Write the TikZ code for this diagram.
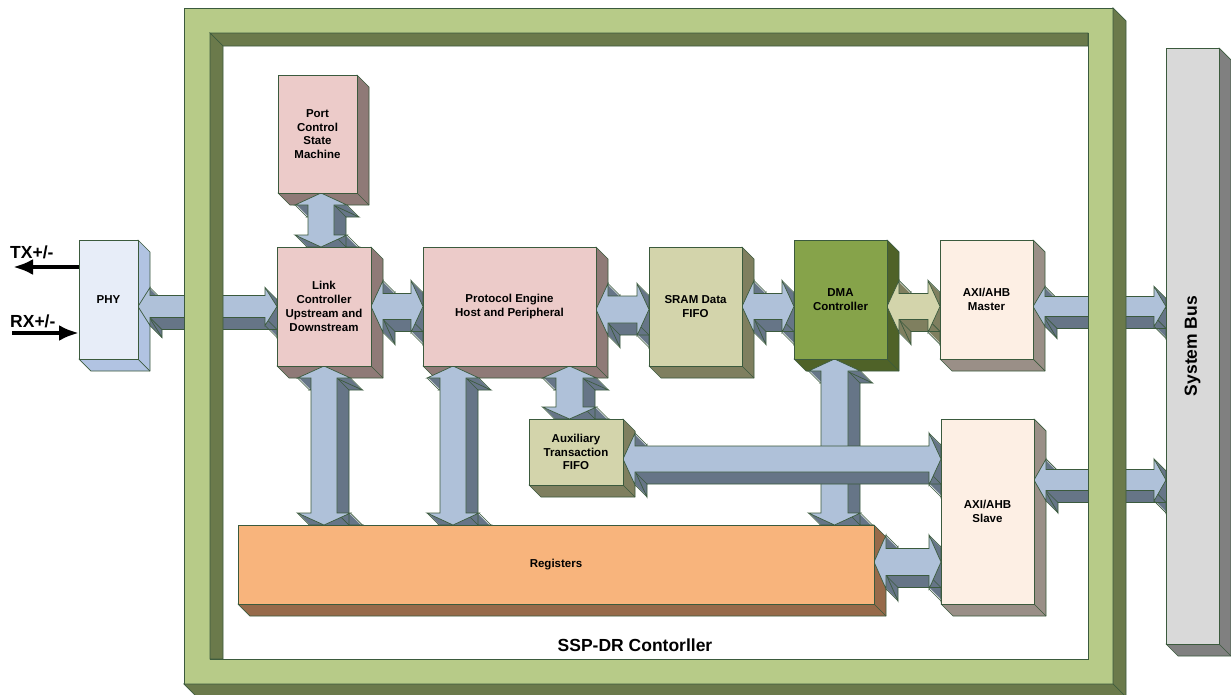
\documentclass[tikz,border=0pt]{standalone}
\usepackage{fontspec}
\setmainfont{Liberation Sans}
\usetikzlibrary{calc, positioning, arrows.meta}

\definecolor{lineGreen}{HTML}{3B5A3D}
\definecolor{frameLight}{HTML}{B7CB88}
\definecolor{frameDark}{HTML}{6B7A4B}
\definecolor{pinkFace}{HTML}{ECCBC9}
\definecolor{pinkSide}{HTML}{8F7A77}
\definecolor{khakiFace}{HTML}{D3D4AB}
\definecolor{khakiSide}{HTML}{7F7F5F}
\definecolor{dmaFace}{HTML}{86A34A}
\definecolor{dmaSide}{HTML}{4F6228}
\definecolor{axiFace}{HTML}{FDEFE4}
\definecolor{axiSide}{HTML}{9A8F87}
\definecolor{regFace}{HTML}{F8B47C}
\definecolor{regSide}{HTML}{976A4A}
\definecolor{phyFace}{HTML}{E7EDF8}
\definecolor{phySide}{HTML}{B1C3E2}
\definecolor{busFace}{HTML}{D9D9D9}
\definecolor{busSide}{HTML}{808080}
\definecolor{arrLight}{HTML}{AFC1D9}
\definecolor{arrDark}{HTML}{667587}

\pgfdeclarelayer{back}
\pgfdeclarelayer{fore}
\pgfsetlayers{back,main,fore}

\tikzset{
  block/.style={draw=lineGreen, line width=0.7pt, inner sep=0pt, outer sep=0pt, align=center,
    font=\bfseries\fontsize{11.5}{13.8}\selectfont},
  bigtext/.style={inner sep=0pt, font=\bfseries\fontsize{17.5}{20}\selectfont},
  wire/.style={line width=4pt, -{Latex[length=20pt, width=16pt]}},
}

% side and bottom faces of a block
\newcommand{\blockside}[2]{%
  \begin{pgfonlayer}{back}
    \filldraw[fill=#2, draw=lineGreen, line width=0.7pt, line join=round]
      (#1.north east) -- ($(#1.north east)+(12,12)$) -- ($(#1.south east)+(12,12)$)
      -- ($(#1.south west)+(12,12)$) -- (#1.south west) -- (#1.south east) -- cycle;
    \draw[lineGreen, line width=0.7pt] (#1.south east) -- ++(12,12);
  \end{pgfonlayer}}

% outline of a double block arrow, offset by #5
\newcommand{\shapeH}[5]{($(#1)+(#5,#5)$) -- ($(#1)+(12+#5,-#4+#5)$) -- ($(#1)+(12+#5,-#3+#5)$) -- ($(#2)+(-12+#5,-#3+#5)$) -- ($(#2)+(-12+#5,-#4+#5)$) -- ($(#2)+(#5,#5)$) -- ($(#2)+(-12+#5,#4+#5)$) -- ($(#2)+(-12+#5,#3+#5)$) -- ($(#1)+(12+#5,#3+#5)$) -- ($(#1)+(12+#5,#4+#5)$) -- cycle}
\newcommand{\shapeV}[5]{($(#1)+(#5,#5)$) -- ($(#1)+(-#4+#5,12+#5)$) -- ($(#1)+(-#3+#5,12+#5)$) -- ($(#2)+(-#3+#5,-12+#5)$) -- ($(#2)+(-#4+#5,-12+#5)$) -- ($(#2)+(#5,#5)$) -- ($(#2)+(#4+#5,-12+#5)$) -- ($(#2)+(#3+#5,-12+#5)$) -- ($(#1)+(#3+#5,12+#5)$) -- ($(#1)+(#4+#5,12+#5)$) -- cycle}

% 3D bus arrows: from, to, shaft half, head half, face, side
\newcommand{\busH}[6]{%
  \foreach \k in {1,...,12}{\fill[#6] \shapeH{#1}{#2}{#3}{#4}{\k};}
  \draw[lineGreen, line width=0.7pt] \shapeH{#1}{#2}{#3}{#4}{12};
  \foreach \px/\py in {0/0, 12/-#4, 12/-#3, 12/#3, 12/#4}{\draw[lineGreen, line width=0.7pt] ($(#1)+(\px,\py)$) -- ++(12,12);}
  \foreach \px/\py in {0/0, -12/-#4, -12/-#3, -12/#3, -12/#4}{\draw[lineGreen, line width=0.7pt] ($(#2)+(\px,\py)$) -- ++(12,12);}
  \filldraw[fill=#5, draw=lineGreen, line width=0.7pt] \shapeH{#1}{#2}{#3}{#4}{0};}
\newcommand{\busV}[6]{%
  \foreach \k in {1,...,12}{\fill[#6] \shapeV{#1}{#2}{#3}{#4}{\k};}
  \draw[lineGreen, line width=0.7pt] \shapeV{#1}{#2}{#3}{#4}{12};
  \foreach \px/\py in {0/0, -#4/12, -#3/12, #3/12, #4/12}{\draw[lineGreen, line width=0.7pt] ($(#1)+(\px,\py)$) -- ++(12,12);}
  \foreach \px/\py in {0/0, -#4/-12, -#3/-12, #3/-12, #4/-12}{\draw[lineGreen, line width=0.7pt] ($(#2)+(\px,\py)$) -- ++(12,12);}
  \filldraw[fill=#5, draw=lineGreen, line width=0.7pt] \shapeV{#1}{#2}{#3}{#4}{0};}

\begin{document}
\begin{tikzpicture}[x=1pt, y=-1pt]
	\useasboundingbox (0,0) rectangle (1231,694);
	\begin{pgfonlayer}{back}
		\fill[white] (0,0) rectangle (1231,694);
	\end{pgfonlayer}

	% Blocks:
	\begin{pgfonlayer}{fore}
		\node[block, fill=phyFace, minimum width=59pt, minimum height=119pt] (phy) at (108.5,299.5) {PHY};
		\node[block, fill=pinkFace, minimum width=79pt, minimum height=118pt] (port) at (317.5,134) {Port\\Control\\State\\Machine};
		\node[block, fill=pinkFace, minimum width=94pt, minimum height=119pt] (link) at (324,306.5) {Link\\Controller\\Upstream and\\Downstream};
		\node[block, fill=pinkFace, minimum width=173pt, minimum height=119pt] (proto) at (509.5,306.5) {Protocol Engine\\Host and Peripheral};
		\node[block, fill=khakiFace, minimum width=93pt, minimum height=119pt] (sram) at (695.5,306.5) {SRAM Data\\FIFO};
		\node[block, fill=dmaFace, minimum width=93pt, minimum height=119pt] (dma) at (840.5,299.5) {DMA\\Controller};
		\node[block, fill=axiFace, minimum width=93pt, minimum height=119pt] (master) at (986.5,299.5) {AXI/AHB\\Master};
		\node[block, fill=khakiFace, minimum width=94pt, minimum height=66pt] (aux) at (576,452) {Auxiliary\\Transaction\\FIFO};
		\node[block, fill=axiFace, minimum width=93pt, minimum height=185pt] (slave) at (987.5,511.5) {AXI/AHB\\Slave};
		\node[block, fill=regFace, minimum width=636pt, minimum height=79pt] (regs) at (556,564.5) {Registers};
		\node[block, fill=busFace, minimum width=53pt, minimum height=596pt] (bus) at (1192.5,346) {};
		\node[bigtext, rotate=90] (buslabel) at (bus.center) {System Bus};

		% controller frame
		\filldraw[fill=frameLight, draw=lineGreen, line width=0.7pt, even odd rule] (184,8) rectangle (1113,684) (210,33) rectangle (1088,659);
		\filldraw[fill=frameDark, draw=lineGreen, line width=0.7pt] (1113,8) -- (1126,21) -- (1126,697) -- (1113,684) -- cycle;
		\filldraw[fill=frameDark, draw=lineGreen, line width=0.7pt] (184,684) -- (1113,684) -- (1126,697) -- (197,697) -- cycle;
		\filldraw[fill=frameDark, draw=lineGreen, line width=0.7pt] (210,33) -- (1088,33) -- (1088,46) -- (223,46) -- cycle;
		\filldraw[fill=frameDark, draw=lineGreen, line width=0.7pt] (210,33) -- (223,46) -- (223,659) -- (210,659) -- cycle;
		\node[bigtext, anchor=base] (ssplabel) at (635,651) {SSP-DR Contorller};
	\end{pgfonlayer}

	\foreach \n/\c in {phy/phySide, port/pinkSide, link/pinkSide, proto/pinkSide, sram/khakiSide, dma/dmaSide,
		master/axiSide, aux/khakiSide, slave/axiSide, regs/regSide, bus/busSide}{\blockside{\n}{\c}}

	% Connector ends:
	\coordinate (pk1) at (phy.east |- link.west);
	\coordinate (pl1) at ($(port.south)+(3.5,0)$);
	\coordinate (pl2) at (pl1 |- link.north);
	\coordinate (ps1) at ($(proto.east)+(0,3)$);
	\coordinate (ps2) at (sram.west |- ps1);
	\coordinate (sd2) at (dma.west |- sram.east);
	\coordinate (dm1) at (dma.east |- sram.east);
	\coordinate (dm2) at (master.west |- sram.east);
	\coordinate (mb1) at (master.east |- sram.east);
	\coordinate (mb2) at (bus.west |- sram.east);
	\coordinate (sb1) at ($(slave.east)+(0,-31.5)$);
	\coordinate (sb2) at (bus.west |- sb1);
	\coordinate (lr2) at (link.south |- regs.north);
	\coordinate (pr1) at ($(proto.south west)+(30,0)$);
	\coordinate (pr2) at (pr1 |- regs.north);
	\coordinate (pa2) at ($(aux.north)+(-6.5,0)$);
	\coordinate (pa1) at (pa2 |- proto.south);
	\coordinate (dr1) at ($(dma.south)+(-6,0)$);
	\coordinate (dr2) at (dr1 |- regs.north);
	\coordinate (as1) at ($(aux.east)+(0,7)$);
	\coordinate (as2) at (slave.west |- as1);
	\coordinate (rs1) at ($(regs.east)+(0,-2.5)$);
	\coordinate (rs2) at (slave.west |- rs1);
	\coordinate (txstart) at ($(phy.north west)+(0,27)$);
	\coordinate (txend) at (13,267);
	\coordinate (rxstart) at (12,333);
	\coordinate (rxend) at ($(phy.north west)+(0,93)$);

	% Bus arrows:
	\busH{pk1}{link.west}{11}{19}{arrLight}{arrDark}
	\busV{pl1}{pl2}{13}{26}{arrLight}{arrDark}
	\busH{link.east}{proto.west}{13}{26}{arrLight}{arrDark}
	\busH{ps1}{ps2}{13.5}{26}{arrLight}{arrDark}
	\busH{sram.east}{sd2}{13}{26}{arrLight}{arrDark}
	\busH{dm1}{dm2}{13}{26}{khakiFace}{khakiSide}
	\busH{mb1}{mb2}{10}{20}{arrLight}{arrDark}
	\busH{sb1}{sb2}{10.5}{21}{arrLight}{arrDark}
	\busV{link.south}{lr2}{13}{26.5}{arrLight}{arrDark}
	\busV{pr1}{pr2}{13}{26}{arrLight}{arrDark}
	\busV{pa1}{pa2}{13.5}{27}{arrLight}{arrDark}
	\busV{dr1}{dr2}{13.5}{26}{arrLight}{arrDark}
	\busH{as1}{as2}{13}{26}{arrLight}{arrDark}
	\busH{rs1}{rs2}{13.5}{27}{arrLight}{arrDark}

	% PHY lines:
	\draw[wire] (txstart) -- (txend);
	\draw[wire] (rxstart) -- (rxend);
	\node[bigtext, anchor=base west] (txlabel) at (10,258) {TX+/-};
	\node[bigtext, anchor=base west] (rxlabel) at (10,327) {RX+/-};
\end{tikzpicture}
\end{document}
